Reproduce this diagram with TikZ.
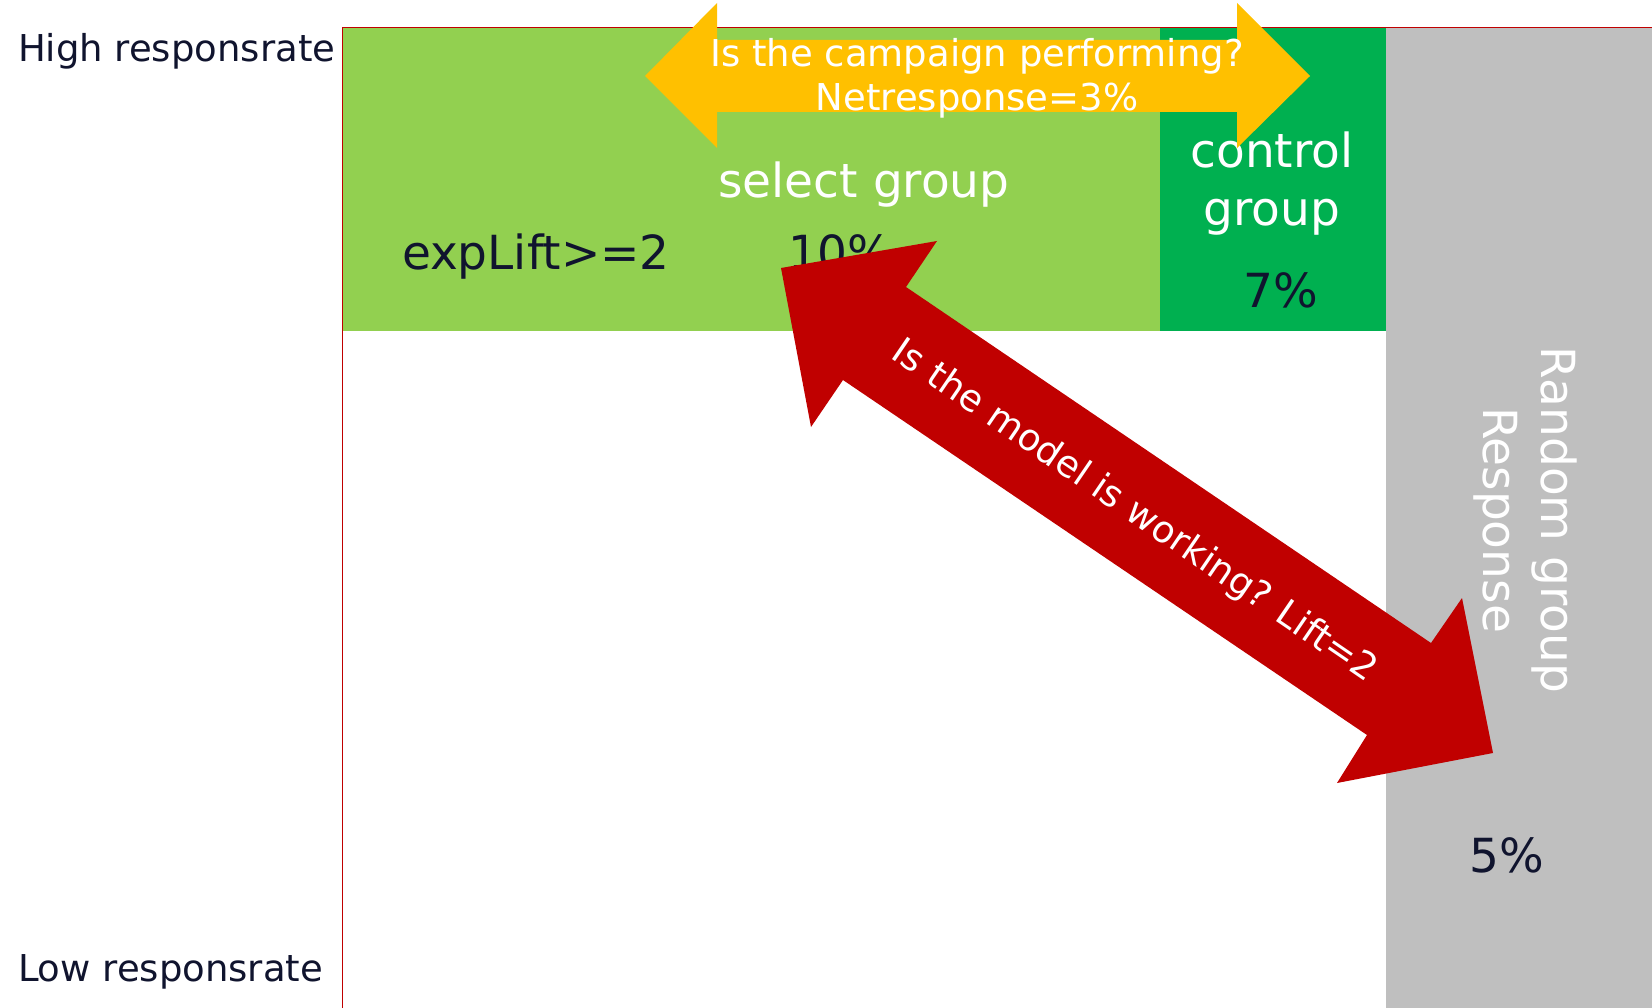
\documentclass[tikz,border=0pt]{standalone}
\usepackage{fontspec}
\setmainfont{DejaVu Sans}
\definecolor{selgreen}{HTML}{92D050}
\definecolor{ctrlgreen}{HTML}{00B050}
\definecolor{randgray}{HTML}{BFBFBF}
\definecolor{campyellow}{HTML}{FFC000}
\definecolor{modelred}{HTML}{C00000}
\definecolor{inkdark}{HTML}{10142E}
\begin{document}
\begin{tikzpicture}[x=1pt,y=-1pt,
  txt/.style={inner sep=0pt, outer sep=0pt},
  small/.style={txt, font=\fontsize{37}{44}\selectfont},
  large/.style={txt, font=\fontsize{47}{56}\selectfont},
  dark/.style={text=inkdark},
  light/.style={text=white}]
\useasboundingbox (0,0) rectangle (1652,1008);

% group blocks
\fill[selgreen]  (342,27) rectangle (1160,331);
\fill[ctrlgreen] (1160,27) rectangle (1386,331);
\fill[randgray]  (1386,27) rectangle (1652,1008);

% frame
\draw[modelred, line width=1.5pt] (342.5,1008) -- (342.5,27.5) -- (1652,27.5);

% axis labels
\node[small, dark, anchor=base west] (high) at (18,62) {High responsrate};
\node[small, dark, anchor=base west] (low)  at (18,981) {Low responsrate};

% group labels
\node[large, light, anchor=base] (sel) at (864,198) {select group};
\node[large, dark, anchor=base west] (lift) at (402,270) {expLift>=2};
\node[large, dark, anchor=base west] (selrate) at (788,270) {10\%};
\node[large, light, anchor=base] (ctrl1) at (1272,168) {control};
\node[large, light, anchor=base] (ctrl2) at (1272,226) {group};
\node[large, dark, anchor=base] (ctrlrate) at (1281,308) {7\%};
\node[large, light, anchor=base, rotate=-90] (rand1) at (1541,520) {Random group};
\node[large, light, anchor=base, rotate=-90] (rand2) at (1483,520) {Response};
\node[large, dark, anchor=base] (randrate) at (1507,872) {5\%};

% campaign arrow
\fill[campyellow] (645,76) -- (717,3) -- (717,40) -- (1237,40) -- (1237,3)
  -- (1310,76) -- (1237,148) -- (1237,112) -- (717,112) -- (717,148) -- cycle;
\node[small, light, anchor=base] (camp1) at (977,67) {Is the campaign performing?};
\node[small, light, anchor=base] (camp2) at (977,111) {Netresponse=3\%};

% model arrow
\fill[modelred] (781,268) -- (937,241) -- (906,287) -- (1431,643) -- (1462,598)
  -- (1493,753) -- (1337,783) -- (1367,735) -- (843,380) -- (811,427) -- cycle;
\node[small, light, rotate=-34.3] (model) at (1134,512) {Is the model is working? Lift=2};
\end{tikzpicture}
\end{document}
